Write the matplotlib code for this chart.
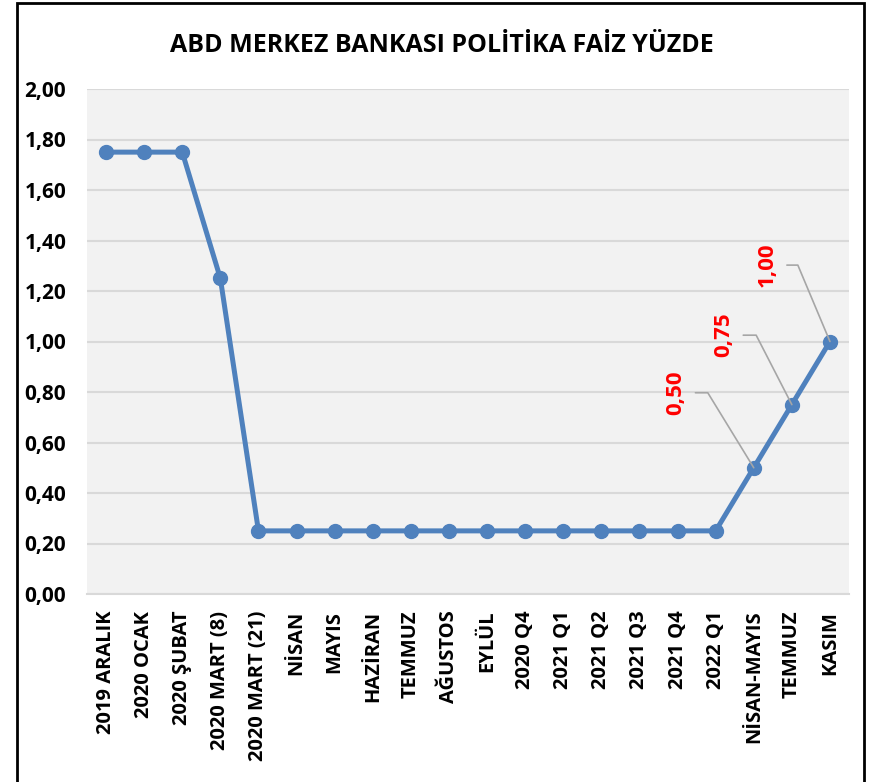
import matplotlib.pyplot as plt
from matplotlib.patches import Rectangle

# data
categories = ['2019 ARALIK', '2020 OCAK', '2020 ŞUBAT', '2020 MART (8)', '2020 MART (21)',
              'NİSAN', 'MAYIS', 'HAZİRAN', 'TEMMUZ', 'AĞUSTOS', 'EYLÜL',
              '2020 Q4', '2021 Q1', '2021 Q2', '2021 Q3', '2021 Q4', '2022 Q1',
              'NİSAN-MAYIS', 'TEMMUZ', 'KASIM']
rates = [1.75, 1.75, 1.75, 1.25, 0.25,
         0.25, 0.25, 0.25, 0.25, 0.25, 0.25,
         0.25, 0.25, 0.25, 0.25, 0.25, 0.25,
         0.50, 0.75, 1.00]
labelled = [17, 18, 19]
yticks = [0.0, 0.2, 0.4, 0.6, 0.8, 1.0, 1.2, 1.4, 1.6, 1.8, 2.0]

plt.rcParams['font.family'] = ['Open Sans', 'DejaVu Sans']

fig = plt.figure(figsize=(8.69, 7.82), dpi=100)
ax = fig.add_axes([87 / 869, 1 - 594 / 782, (849 - 87) / 869, (594 - 89) / 782])
ax.set_facecolor('#f2f2f2')

x = list(range(len(categories)))
ax.plot(x, rates, color='#4f81bd', linewidth=3.6, marker='o', markersize=10,
        solid_joinstyle='round', zorder=3)

ax.set_xlim(-0.5, len(categories) - 0.5)
ax.set_ylim(0, 2.0)
ax.set_yticks(yticks)
ax.set_yticklabels([f'{v:.2f}'.replace('.', ',') for v in yticks],
                   fontsize=15, fontweight='bold')
ax.set_xticks(x)
ax.set_xticklabels(categories, rotation=90, fontsize=14.5, fontweight='bold')
ax.tick_params(length=0, pad=15)
ax.tick_params(axis='x', pad=12)
ax.grid(axis='y', color='#d9d9d9', linewidth=1.5, zorder=0)
ax.set_axisbelow(True)
for s in ['left', 'right', 'top']:
    ax.spines[s].set_visible(False)
ax.spines['bottom'].set_color('#d9d9d9')
ax.spines['bottom'].set_linewidth(1.5)

# data labels with leader lines (offsets in points)
label_offsets = [(-56, 54), (-49, 50), (-45, 55)]
leader_offsets = [(-42, 54), (-35, 50), (-31, 55)]
leader_angles = [121.5, 117.2, 112.8]
for i, lo, ld, ang in zip(labelled, label_offsets, leader_offsets, leader_angles):
    val = rates[i]
    ax.annotate(f'{val:.2f}'.replace('.', ','), xy=(i, val), xytext=lo,
                textcoords='offset points', rotation=90, color='red',
                fontsize=16, fontweight='bold', ha='center', va='center')
    ax.annotate('', xy=(i, val), xytext=ld, textcoords='offset points',
                arrowprops=dict(arrowstyle='-', color='#a6a6a6', lw=1.2,
                                shrinkA=0, shrinkB=0,
                                connectionstyle=f'angle,angleA=0,angleB={ang},rad=0'))

fig.text(442 / 869, 1 - 45 / 782, 'ABD MERKEZ BANKASI POLİTİKA FAİZ YÜZDE',
         ha='center', va='center', fontsize=18, fontweight='bold')

# outer frame
fig.patches.append(Rectangle((17 / 869, -0.05), (864 - 17) / 869, 1.05 - 3 / 782,
                             transform=fig.transFigure, fill=False,
                             edgecolor='black', linewidth=2))

fig.savefig('out.png', dpi=100)
